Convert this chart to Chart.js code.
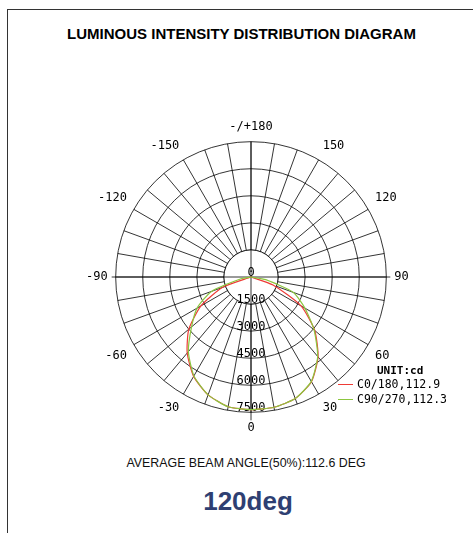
<!DOCTYPE html>
<html>
<head>
<meta charset="utf-8">
<script src="https://cdn.jsdelivr.net/npm/chart.js@4.4.1/dist/chart.umd.min.js"></script>
<style>
    body { margin: 0; background: #fff; }
    #page { position: relative; width: 473px; height: 533px; overflow: hidden; background: #fff; }
    #frame { position: absolute; left: 7px; top: 9px; width: 470px; height: 530px;
             border-top: 1px solid #333; border-left: 1px solid #333; }
    #title { position: absolute; left: 241.5px; top: 25px; transform: translateX(-50%); white-space: nowrap;
             font: bold 15px "Liberation Sans", Arial, sans-serif; line-height: 18px; color: #000; }
    #polar { position: absolute; left: 83px; top: 112px; }
    #unit { position: absolute; left: 377px; top: 363px; font: bold 11px "DejaVu Sans Mono", monospace;
            line-height: 15px; color: #000; }
    .entry { position: absolute; left: 338px; height: 15px; white-space: nowrap;
             font: 11.5px "DejaVu Sans Mono", monospace; line-height: 15px; color: #000; }
    .entry i { position: absolute; left: 0; top: 7px; width: 15px; height: 1px; }
    .entry span { position: absolute; left: 19px; top: 0; }
    #beam { position: absolute; left: 246px; top: 455px; transform: translateX(-50%); white-space: nowrap;
            font: 12.4px "Liberation Sans", Arial, sans-serif; line-height: 16px; color: #111; }
    #deg { position: absolute; left: 248px; top: 486px; transform: translateX(-50%); white-space: nowrap;
           font: bold 26px "Liberation Sans", Arial, sans-serif; line-height: 30px; color: #2e3f72; }
</style>
</head>
<body>
<div id="page">
    <div id="frame"></div>
    <div id="title">LUMINOUS INTENSITY DISTRIBUTION DIAGRAM</div>
    <canvas id="polar" width="330" height="330"></canvas>
    <div id="unit">UNIT:cd</div>
    <div id="legend"></div>
    <div id="beam">AVERAGE BEAM ANGLE(50%):112.6 DEG</div>
    <div id="deg">120deg</div>
</div>
<script>
// gamma angles, clockwise from the top of the diagram
const angles = [180, 170, 160, 150, 140, 130, 120, 110, 100, 90, 80, 70, 60, 50, 40, 30, 20, 10,
    0, -10, -20, -30, -40, -50, -60, -70, -80, -90, -100, -110, -120, -130, -140, -150, -160, -170];

// intensity rings (cd)
const ringValues = [0, 1500, 3000, 4500, 6000, 7500];

// C0/180 plane
const c0Values = [0, 0, 0, 0, 0, 0, 0, 0, 0, 0, 0, 1300, 3200, 4610, 5780, 6700, 7170, 7330,
    7350, 7300, 6950, 6360, 5500, 4500, 3200, 1670, 0, 0, 0, 0, 0, 0, 0, 0, 0, 0];

// C90/270 plane
const c90Values = [0, 0, 0, 0, 0, 0, 0, 0, 0, 0, 830, 2500, 3450, 4560, 5750, 6680, 7170, 7330,
    7350, 7300, 6950, 6330, 5400, 4300, 3450, 2330, 560, 0, 0, 0, 0, 0, 0, 0, 0, 0];

const seriesNames = ['C0/180,112.9', 'C90/270,112.3'];
const seriesColors = ['#ee3b36', '#8cc63f'];

document.addEventListener('DOMContentLoaded', function () {
    // Legend rows under UNIT:cd
    const legend = document.getElementById('legend');
    seriesNames.forEach((name, i) => {
        const row = document.createElement('div');
        row.className = 'entry';
        row.style.top = (377 + i * 15) + 'px';
        row.innerHTML = `<i style="background:${seriesColors[i]}"></i><span>${name}</span>`;
        legend.appendChild(row);
    });

    // Clears the middle ring, redraws the main axes and writes the ring values downwards
    const centerPlugin = {
        id: 'centerPlugin',
        beforeDatasetsDraw(chart) {
            const r = chart.scales.r;
            const ctx = chart.ctx;
            const cx = r.xCenter;
            const cy = r.yCenter;
            const inner = r.getDistanceFromCenterForValue(ringValues[1]);
            const outer = r.drawingArea;
            ctx.save();
            ctx.fillStyle = '#fff';
            ctx.beginPath();
            ctx.arc(cx, cy, inner, 0, Math.PI * 2);
            ctx.fill();
            ctx.strokeStyle = '#000';
            ctx.lineWidth = 0.8;
            ctx.stroke();
            ctx.beginPath();
            ctx.moveTo(cx - outer - 4, cy);
            ctx.lineTo(cx + outer + 4, cy);
            ctx.moveTo(cx, cy - outer);
            ctx.lineTo(cx, cy + outer + 8);
            ctx.stroke();
            ctx.fillStyle = '#000';
            ctx.font = '12px "DejaVu Sans Mono"';
            ctx.textAlign = 'center';
            ctx.textBaseline = 'middle';
            ringValues.forEach(v => {
                ctx.fillText(String(v), cx, cy + r.getDistanceFromCenterForValue(v) - 4);
            });
            ctx.restore();
        }
    };

    const ctx = document.getElementById('polar').getContext('2d');
    new Chart(ctx, {
        type: 'radar',
        data: {
            labels: angles.map(String),
            datasets: [
                {
                    label: seriesNames[0],
                    data: c0Values,
                    borderColor: seriesColors[0],
                    borderWidth: 1.2,
                    fill: false,
                    pointRadius: 0,
                    tension: 0.2,
                    order: 1,
                },
                {
                    label: seriesNames[1],
                    data: c90Values,
                    borderColor: seriesColors[1],
                    borderWidth: 1.2,
                    fill: false,
                    pointRadius: 0,
                    tension: 0.2,
                    order: 0,
                },
            ],
        },
        options: {
            responsive: false,
            animation: false,
            layout: { padding: 0 },
            plugins: { legend: { display: false }, tooltip: { enabled: false } },
            scales: {
                r: {
                    min: 0,
                    max: 7500,
                    ticks: { stepSize: 1500, display: false },
                    grid: { circular: true, color: '#000', lineWidth: 0.8 },
                    angleLines: { color: '#000', lineWidth: 0.8 },
                    pointLabels: {
                        color: '#000',
                        padding: 8,
                        font: { family: 'DejaVu Sans Mono', size: 12 },
                        callback: (label, i) => {
                            const a = angles[i];
                            if (a % 30 !== 0) return '';
                            return a === 180 ? '-/+180' : label;
                        },
                    },
                },
            },
        },
        plugins: [centerPlugin],
    });
});
</script>
</body>
</html>
